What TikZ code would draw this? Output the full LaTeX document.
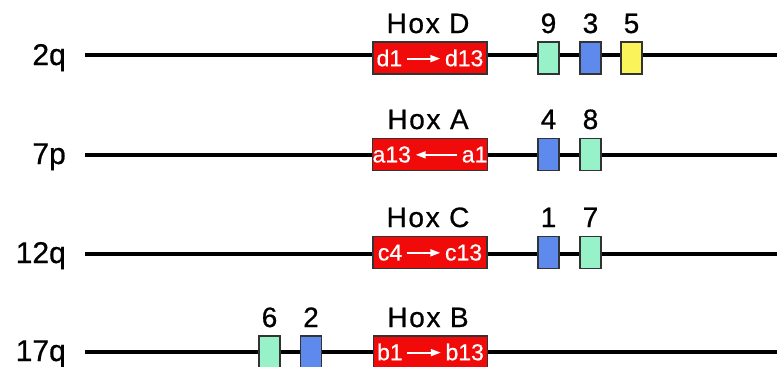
\documentclass[tikz,border=0pt]{standalone}
\usepackage{fontspec}
\setmainfont{Liberation Sans}[FakeBold=0.7]
\usetikzlibrary{arrows.meta}
\definecolor{hoxred}{HTML}{F00A0A}
\definecolor{mint}{HTML}{98F2C9}
\definecolor{gblue}{HTML}{5E8AEE}
\definecolor{gyellow}{HTML}{FBF35A}
\tikzset{
  chrom/.style={line width=3.3pt,black},
  chlabel/.style={anchor=base east,font=\fontsize{30}{30}\selectfont,inner sep=0pt},
  toplabel/.style={anchor=base,font=\fontsize{28}{28}\selectfont,inner sep=0pt},
  hoxlabel/.style={toplabel,font=\fontsize{28}{28}\selectfont\addfontfeature{LetterSpace=6}},
  cluster/.style={draw=black!80,line width=1.2pt,fill=hoxred,minimum width=114pt,minimum height=32pt,inner sep=0pt,text=white,font=\fontsize{23}{23}\selectfont},
  gene/.style={draw=black!80,line width=1.2pt,minimum width=21pt,minimum height=32pt,inner sep=0pt},
  rarr/.style={white,line width=1.8pt,-{Triangle[length=10pt,width=7pt]}},
}
\newcommand{\rto}{\,\tikz[baseline]{\draw[rarr] (0,0.33em) -- (1.45em,0.33em);}\,}
\newcommand{\lto}{\,\tikz[baseline]{\draw[rarr] (1.8em,0.33em) -- (0,0.33em);}\,}
\begin{document}
\begin{tikzpicture}[x=1pt,y=-1pt]
\useasboundingbox (0,0) rectangle (777,367);
% row 1: 2q
\node[chlabel] (l1) at (66,65) {2q};
\coordinate (s1) at (85,55);
\coordinate (e1) at (777,55);
\draw[chrom] (s1) -- (e1);
\node[cluster] (D) at (430,58) {d1\rto d13};
\node[hoxlabel] (hD) at (428,33) {Hox D};
\node[gene,fill=mint] (g9) at (548.5,58) {};
\node[gene,fill=gblue] (g3) at (590.5,58) {};
\node[gene,fill=gyellow] (g5) at (631.5,58) {};
\node[toplabel] (n9) at (548.5,33) {9};
\node[toplabel] (n3) at (590.5,33) {3};
\node[toplabel] (n5) at (631.5,33) {5};
% row 2: 7p
\node[chlabel] (l2) at (66,164) {7p};
\coordinate (s2) at (85,155);
\coordinate (e2) at (777,155);
\draw[chrom] (s2) -- (e2);
\node[cluster] (A) at (430,154.5) {a13\lto a1};
\node[hoxlabel] (hA) at (428,129) {Hox A};
\node[gene,fill=gblue] (g4) at (548.5,154.5) {};
\node[gene,fill=mint] (g8) at (590.5,154.5) {};
\node[toplabel] (n4) at (548.5,129) {4};
\node[toplabel] (n8) at (590.5,129) {8};
% row 3: 12q
\node[chlabel] (l3) at (66,263) {12q};
\coordinate (s3) at (85,254);
\coordinate (e3) at (777,254);
\draw[chrom] (s3) -- (e3);
\node[cluster] (C) at (430,252.5) {c4\rto c13};
\node[hoxlabel] (hC) at (428,227) {Hox C};
\node[gene,fill=gblue] (g1) at (548.5,252.5) {};
\node[gene,fill=mint] (g7) at (590.5,252.5) {};
\node[toplabel] (n1) at (548.5,227) {1};
\node[toplabel] (n7) at (590.5,227) {7};
% row 4: 17q
\node[chlabel] (l4) at (66,361) {17q};
\coordinate (s4) at (85,352);
\coordinate (e4) at (777,352);
\draw[chrom] (s4) -- (e4);
\node[cluster] (B) at (430.5,352) {b1\rto b13};
\node[hoxlabel] (hB) at (428,327) {Hox B};
\node[gene,fill=mint] (g6) at (269.5,352) {};
\node[gene,fill=gblue] (g2) at (311,352) {};
\node[toplabel] (n6) at (269.5,327) {6};
\node[toplabel] (n2) at (311,327) {2};
\end{tikzpicture}
\end{document}
